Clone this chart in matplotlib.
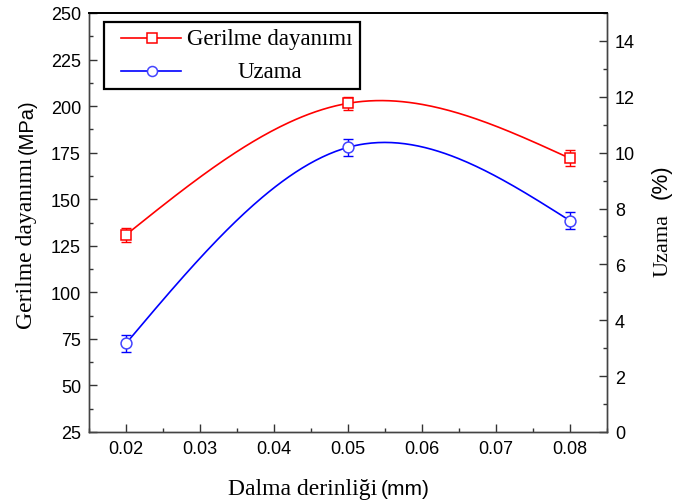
import numpy as np
import matplotlib.pyplot as plt
from matplotlib.patches import Rectangle
from matplotlib.lines import Line2D
from matplotlib.ticker import MultipleLocator

# Dalma derinligi (mm)
depth = [0.02, 0.05, 0.08]
# Gerilme dayanimi (MPa) ve hata
strength = [131, 201.5, 172]
strength_err = [3.8, 3.6, 4.2]
# Uzama (%) ve hata
elong = [3.18, 10.19, 7.57]
elong_err = [0.3, 0.3, 0.31]

x_ticks = [0.02, 0.03, 0.04, 0.05, 0.06, 0.07, 0.08]
left_ticks = [25, 50, 75, 100, 125, 150, 175, 200, 225, 250]
right_ticks = [0, 2, 4, 6, 8, 10, 12, 14]

RED = '#ff0000'
BLUE = '#0000ff'
SERIF = 'Liberation Serif'
SANS = 'Liberation Sans'


def natural_spline(x, y, n=200):
    # dogal kubik spline, egriyi yumusak cizmek icin
    x = np.asarray(x, float)
    y = np.asarray(y, float)
    k = len(x)
    h = np.diff(x)
    A = np.zeros((k, k))
    b = np.zeros(k)
    A[0, 0] = A[-1, -1] = 1
    for i in range(1, k - 1):
        A[i, i - 1] = h[i - 1]
        A[i, i] = 2 * (h[i - 1] + h[i])
        A[i, i + 1] = h[i]
        b[i] = 6 * ((y[i + 1] - y[i]) / h[i] - (y[i] - y[i - 1]) / h[i - 1])
    M = np.linalg.solve(A, b)
    xs = np.linspace(x[0], x[-1], n)
    idx = np.clip(np.searchsorted(x, xs) - 1, 0, k - 2)
    x0, x1 = x[idx], x[idx + 1]
    hh = x1 - x0
    ys = (M[idx] * (x1 - xs) ** 3 / (6 * hh) + M[idx + 1] * (xs - x0) ** 3 / (6 * hh)
          + (y[idx] / hh - M[idx] * hh / 6) * (x1 - xs)
          + (y[idx + 1] / hh - M[idx + 1] * hh / 6) * (xs - x0))
    return xs, ys


W, H = 673, 502
fig = plt.figure(figsize=(W / 100, H / 100), dpi=100)
ax = fig.add_axes([89.3 / W, 1 - 433 / H, (606.7 - 89.3) / W, (433 - 14) / H])
ax2 = ax.twinx()

xs, ys = natural_spline(depth, strength)
ax.plot(xs, ys, color=RED, lw=1.2, zorder=2)
ax.errorbar(depth, strength, yerr=strength_err, fmt='none', ecolor=RED,
            elinewidth=1.0, capsize=3.8, capthick=1.0, zorder=3)
ax.plot(depth, strength, 's', ms=7.2, mfc='white', mec=RED, mew=1.1, zorder=4)

xs, ys = natural_spline(depth, elong)
ax2.plot(xs, ys, color=BLUE, lw=1.2, zorder=2)
ax2.errorbar(depth, elong, yerr=elong_err, fmt='none', ecolor=BLUE,
             elinewidth=1.0, capsize=3.8, capthick=1.0, zorder=3)
ax2.plot(depth, elong, 'o', ms=7.8, mfc='white', mec='#4444ff', mew=1.1, zorder=4)

ax.set_xlim(0.015, 0.085)
ax.set_ylim(25, 250)
ax2.set_ylim(0, 15)
ax.set_xticks(x_ticks)
ax.set_xticklabels([f'{v:.2f}' for v in x_ticks])
ax.set_yticks(left_ticks)
ax2.set_yticks(right_ticks)
ax.xaxis.set_minor_locator(MultipleLocator(0.005))
ax.yaxis.set_minor_locator(MultipleLocator(12.5))
ax2.yaxis.set_minor_locator(MultipleLocator(1))

for a in (ax, ax2):
    a.tick_params(which='major', direction='in', length=6, width=1.0,
                  color='#333333', pad=6, labelsize=13)
    a.tick_params(which='minor', direction='in', length=3, width=1.0, color='#333333')
    for lbl in a.get_xticklabels() + a.get_yticklabels():
        lbl.set_family(SANS)
    for s in a.spines.values():
        s.set_color('#444444')
        s.set_linewidth(1.0)
    a.spines['top'].set_color('black')
    a.spines['top'].set_linewidth(1.3)
ax.tick_params(top=False, right=False)


# eksen basliklari (serif + sans birimler)
def fx(px):
    return px / W


def fy(py):
    return 1 - py / H


fig.text(fx(377), fy(495), 'Dalma derinliği', family=SERIF, fontsize=17,
         ha='right', va='baseline')
fig.text(fx(381), fy(495), '(mm)', family=SANS, fontsize=15,
         ha='left', va='baseline')

fig.text(fx(37), fy(158), 'Gerilme dayanımı', family=SERIF, fontsize=17,
         rotation=90, ha='right', va='bottom', rotation_mode='anchor')
fig.text(fx(37), fy(154), '(MPa)', family=SANS, fontsize=14.5,
         rotation=90, ha='left', va='bottom', rotation_mode='anchor')

fig.text(fx(672), fy(277), 'Uzama', family=SERIF, fontsize=16,
         rotation=90, ha='left', va='bottom', rotation_mode='anchor')
fig.text(fx(672), fy(199), '(%)', family=SANS, fontsize=16,
         rotation=90, ha='left', va='bottom', rotation_mode='anchor')

# lejant kutusu
fig.patches.append(Rectangle((fx(104), fy(90)), fx(360) - fx(104), fy(22.7) - fy(90),
                             transform=fig.transFigure, fill=False, ec='black', lw=1.6))
for py, col, mk, mec, label in [(39, RED, 's', RED, 'Gerilme dayanımı'),
                                (72, BLUE, 'o', '#4444ff', 'Uzama')]:
    fig.lines.append(Line2D([fx(120.7), fx(180.7)], [fy(py), fy(py)], transform=fig.transFigure,
                            color=col, lw=1.2))
    fig.lines.append(Line2D([fx(152)], [fy(py)], transform=fig.transFigure, marker=mk,
                            ms=7.2, mfc='white', mec=mec, mew=1.1, ls='none'))
    fig.text(fx(270), fy(py), label, family=SERIF, fontsize=16.5, ha='center', va='center')

fig.savefig('out.png', dpi=100)
